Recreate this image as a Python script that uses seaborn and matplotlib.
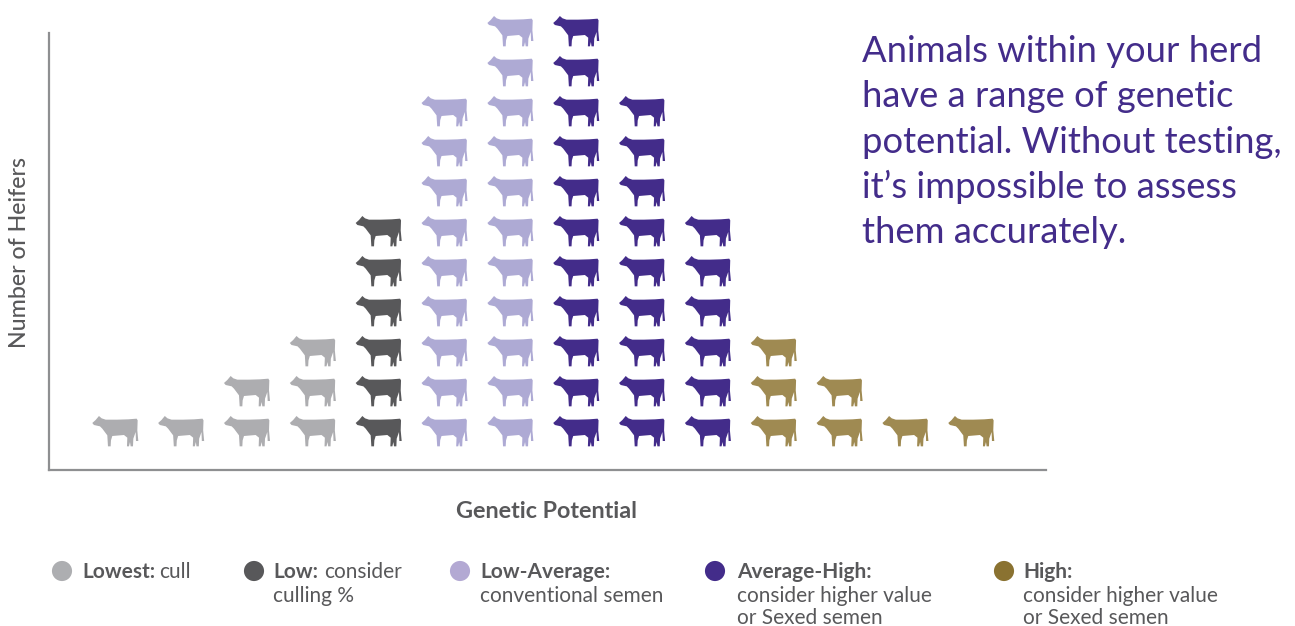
import matplotlib
matplotlib.use('Agg')
import matplotlib.pyplot as plt
import numpy as np
import pandas as pd
import seaborn as sns
from matplotlib.path import Path

# cows stacked in each genetic potential column
potential = list(range(14))
heifers = [1, 1, 2, 3, 6, 9, 11, 11, 9, 6, 3, 2, 1, 1]
tiers = ['Lowest', 'Lowest', 'Lowest', 'Lowest', 'Low', 'Low-Average', 'Low-Average',
         'Average-High', 'Average-High', 'Average-High', 'High', 'High', 'High', 'High']
tier_order = ['Lowest', 'Low', 'Low-Average', 'Average-High', 'High']
cow_colors = ['#adadb0', '#58585a', '#aeaad4', '#432c8a', '#9f8a52']
dot_colors = ['#adaeb1', '#58585a', '#b3a9d3', '#432c8a', '#8a7231']
dot_x = [62, 254, 460, 715, 1004]

# x px, baseline px, text, weight
legend_text = [
    (82, 578, 'Lowest:', 'bold'), (159, 578, 'cull', 'normal'),
    (273, 578, 'Low:', 'bold'), (324, 578, 'consider', 'normal'),
    (273, 602, 'culling %', 'normal'),
    (480, 578, 'Low-Average:', 'bold'), (480, 602, 'conventional semen', 'normal'),
    (737, 578, 'Average-High:', 'bold'), (737, 602, 'consider higher value', 'normal'),
    (737, 624, 'or Sexed semen', 'normal'),
    (1023, 578, 'High:', 'bold'), (1023, 602, 'consider higher value', 'normal'),
    (1023, 624, 'or Sexed semen', 'normal'),
]
note_lines = ['Animals within your herd', 'have a range of genetic', 'potential. Without testing,',
              'it\u2019s impossible to assess', 'them accurately.']

# cow silhouette, y up
cow_outline = [(-68, 24), (-58, 33), (-48, 45), (-40, 38), (-28, 34), (7, 34), (40, 35), (65, 37),
               (68, 32), (67, 2), (70, -30), (63, -30), (62, -3), (55, -23), (54, -46), (47, -46),
               (45, -33), (42, -46), (36, -46), (37, -20), (27, -12), (-8, -15), (-12, -28),
               (-13, -46), (-21, -46), (-23, -13), (-38, 7), (-45, 14), (-63, 18), (-68, 24)]
cow = Path(np.array(cow_outline, dtype=float))

WIDTH, HEIGHT = 1295, 626
GREY = '#58585a'


def main():
    sns.set_style('white')
    plt.rcParams['font.family'] = ['Lato', 'DejaVu Sans']
    rows = []
    for x, n, t in zip(potential, heifers, tiers):
        for h in range(1, n + 1):
            rows.append({'potential': x, 'heifers': h, 'tier': t})
    df = pd.DataFrame(rows)

    fig = plt.figure(figsize=(WIDTH / 100, HEIGHT / 100), dpi=100)
    ax = fig.add_axes([49 / WIDTH, 1 - 470 / HEIGHT, (1046 - 49) / WIDTH, (470 - 33) / HEIGHT])
    sns.scatterplot(data=df, x='potential', y='heifers', hue='tier', hue_order=tier_order,
                    palette=cow_colors, marker=cow, s=1130, linewidth=0, legend=False,
                    clip_on=False, ax=ax)
    ax.set_xlim(-1.002, 14.14)
    ax.set_ylim(0.025, 10.95)
    ax.set_xticks([])
    ax.set_yticks([])
    ax.set_xlabel('')
    ax.set_ylabel('')
    sns.despine(ax=ax)
    for side in ['left', 'bottom']:
        ax.spines[side].set_color('#8e8f91')
        ax.spines[side].set_linewidth(1.6)

    fig.text(547 / WIDTH, 1 - 511 / HEIGHT, 'Genetic Potential', ha='center', va='center',
             fontsize=16.8, fontweight='bold', color=GREY)
    fig.text(20 / WIDTH, 1 - 253 / HEIGHT, 'Number of Heifers', ha='center', va='center',
             rotation=90, fontsize=16.7, fontweight='medium', color=GREY)

    for i, line in enumerate(note_lines):
        fig.text(862 / WIDTH, 1 - (62 + 45.3 * i) / HEIGHT, line, ha='left', va='baseline',
                 fontsize=26.2, color='#432c8a')

    ax.scatter([d / WIDTH for d in dot_x], [1 - 571 / HEIGHT] * len(dot_x), c=dot_colors, s=210,
               linewidths=0, transform=fig.transFigure, clip_on=False)
    for x, y, s, w in legend_text:
        fig.text(x / WIDTH, 1 - y / HEIGHT, s, ha='left', va='baseline', fontsize=15,
                 fontweight=w, color=GREY)

    plt.savefig('out.png', dpi=100)


if __name__ == '__main__':
    main()
